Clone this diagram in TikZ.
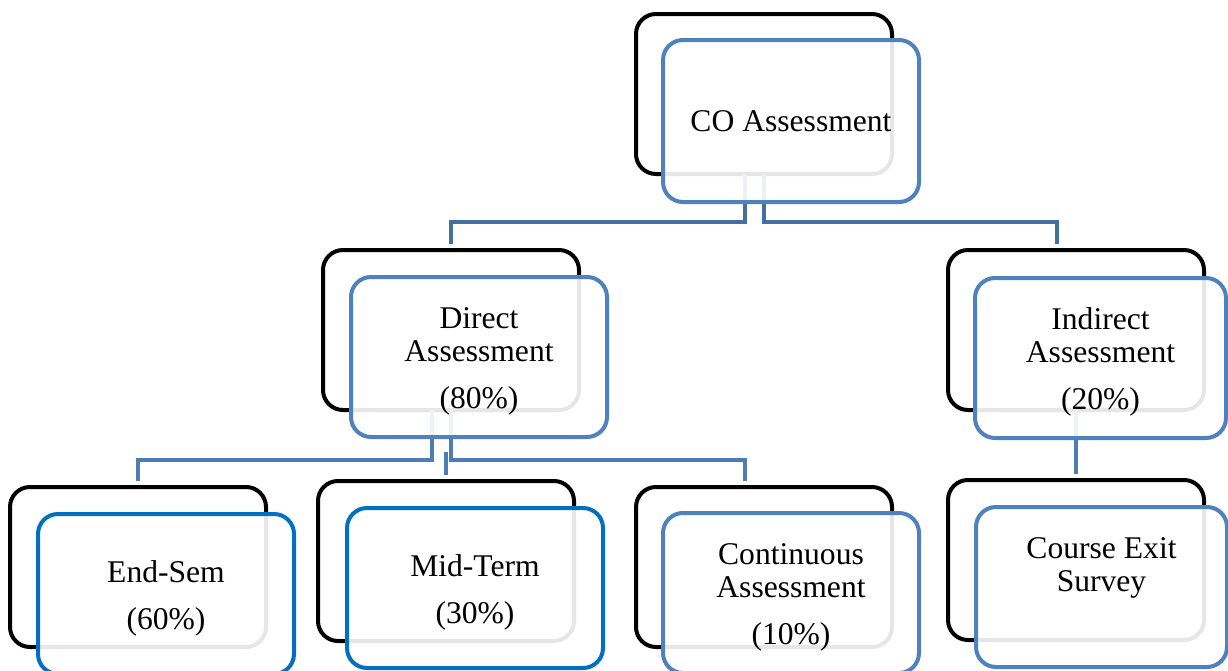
\documentclass[tikz,border=0pt]{standalone}
\usepackage{fontspec}
\setmainfont{Liberation Serif}
\usetikzlibrary{calc}
\definecolor{boxblue}{HTML}{4F81BD}
\definecolor{brightblue}{HTML}{0070C0}
\definecolor{linkdark}{HTML}{44709F}
\definecolor{linkblue}{HTML}{4E7CB7}
% taller first line so stacked labels sit a little lower in their box
\newcommand{\firstline}{\rule{0pt}{22.5pt}}
\begin{document}
\begin{tikzpicture}[x=0.75pt,y=-0.75pt,
  backbox/.style={draw=black, line width=3pt, rounded corners=15pt,
    minimum width=192pt, minimum height=120pt, anchor=north west,
    inner sep=0pt, outer sep=0pt},
  frontbox/.style={draw=boxblue, fill=white, fill opacity=0.9, text opacity=1,
    draw opacity=1, line width=3pt, rounded corners=15pt,
    minimum width=192pt, minimum height=120pt, anchor=north west,
    inner sep=0pt, outer sep=0pt, align=center, text=black,
    font=\fontsize{23.7pt}{24.75pt}\selectfont},
  link/.style={draw=linkblue, line width=3pt, shorten >=4.5pt},
  toplink/.style={link, draw=linkdark},
]
\useasboundingbox (0,0) rectangle (1228,671);

% shadow frames behind each box
\node[backbox] (co-back)   at (636,14)  {};
\node[backbox] (dir-back)  at (323,250) {};
\node[backbox] (ind-back)  at (948,250) {};
\node[backbox] (end-back)  at (10,487)  {};
\node[backbox] (mid-back)  at (318,481) {};
\node[backbox] (cont-back) at (636,487) {};
\node[backbox] (crs-back)  at (948,480) {};

% hierarchy connectors
\draw[toplink] ($(co-back.south)+(-19.5,0)$) -- ++(0,48) -| (dir-back.north);
\draw[toplink] (co-back.south) -- ++(0,48) -| ($(ind-back.north)+(-19,0)$);
\draw[link] ($(dir-back.south)+(-19,0)$) -- ++(0,50) -| (end-back.north);
\draw[link] (dir-back.south) -- ++(0,50) -| ($(cont-back.north)+(-19,0)$);
\coordinate (midtap) at ($(dir-back.south)+(-5,42)$);
\draw[link] (midtap) -- (mid-back.north);
\draw[link] (ind-back.south) -- (crs-back.north);

% front boxes with labels
\node[frontbox, minimum height=121.5pt] (co) at (663,40) {CO Assessment};
\node[frontbox] (dir) at (351,277) {\firstline Direct\\Assessment\\[10.5pt](80\%)};
\node[frontbox, minimum width=188.25pt] (ind) at (975,278) {\firstline Indirect\\Assessment\\[10.5pt](20\%)};
\node[frontbox, draw=brightblue] (end) at (38,514) {\firstline End-Sem\\[10.5pt](60\%)};
\node[frontbox, draw=brightblue] (mid) at (347,508) {\firstline Mid-Term\\[10.5pt](30\%)};
\node[frontbox] (cont) at (663,513) {\firstline Continuous\\Assessment\\[10.5pt](10\%)};
\node[frontbox, minimum width=188.25pt] (crs) at (976,507) {\rule{0pt}{24pt}Course Exit\\Survey\\[10.5pt]\strut};
\end{tikzpicture}
\end{document}
